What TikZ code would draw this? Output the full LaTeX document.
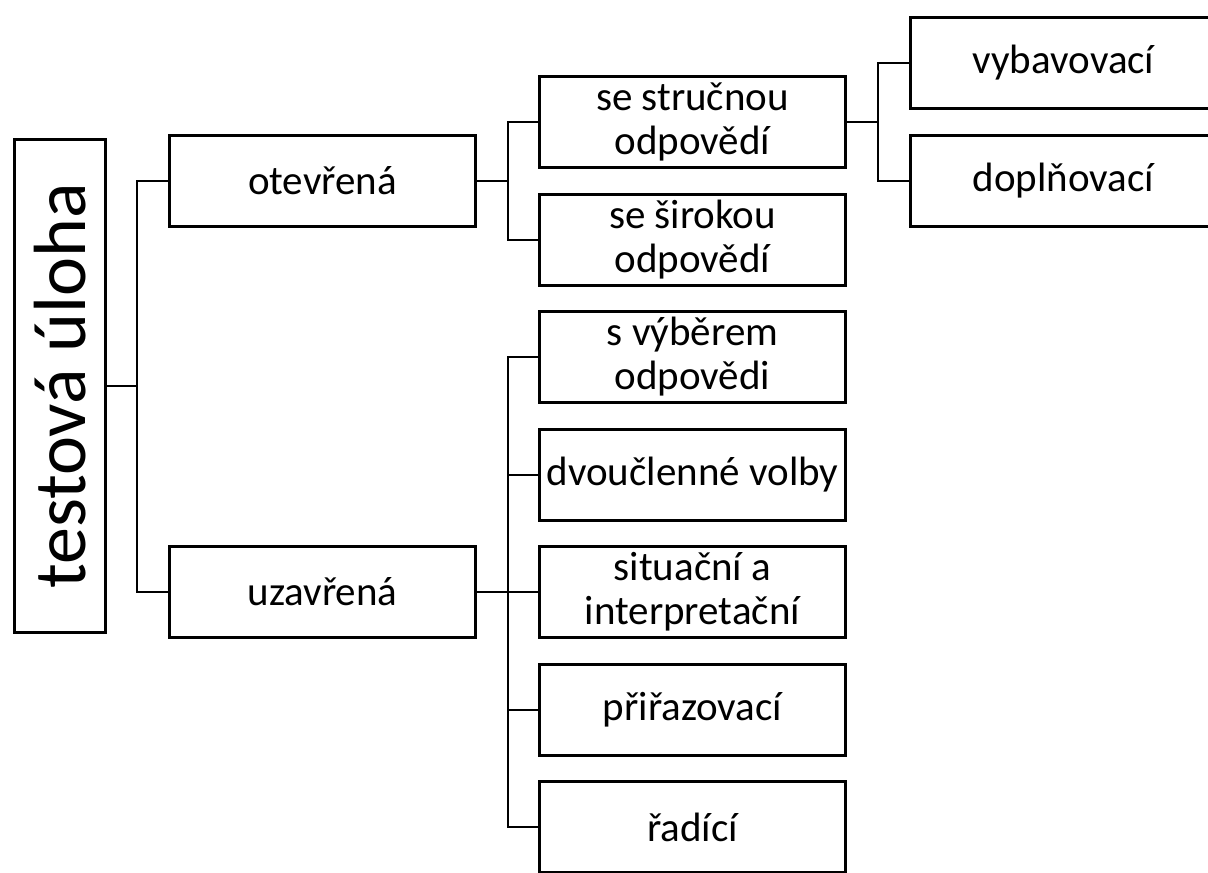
\documentclass[tikz,border=0pt]{standalone}
\usepackage{fontspec}
\setmainfont{Carlito}
\usetikzlibrary{positioning}

\begin{document}
\begin{tikzpicture}[x=1pt, y=-1pt,
        box/.style = {draw, line width=3pt, minimum width=306pt, minimum height=91pt, inner sep=0pt, align=center, font=\fontsize{41}{44}\selectfont},
        link/.style = {draw, line width=2pt}]
            \useasboundingbox (0,0) rectangle (1208,873);

            \node[box, rotate=90, minimum width=493pt, font=\fontsize{74}{80}\selectfont] (root) at (60,386) {testová úloha};

            \node[box] (ote) at (322.5,181) {otevřená};
            \node[box] (uza) at (322.5,592) {uzavřená};

            \node[box] (str) at (692.5,122) {se stručnou\\odpovědí};
            \node[box] (sir) at (692.5,240) {se širokou\\odpovědí};
            \node[box] (vyb) at (1063.5,63) {vybavovací};
            \node[box] (dop) at (1063.5,181) {doplňovací};

            \node[box] (sel) at (692.5,357) {s výběrem\\odpovědi};
            \node[box] (dvo) [below=23.5pt of sel] {dvoučlenné volby};
            \node[box] (sit) [below=23.5pt of dvo] {situační a\\interpretační};
            \node[box] (pri) [below=23.5pt of sit] {přiřazovací};
            \node[box] (rad) [below=23.5pt of pri] {řadící};

            \coordinate (j0) at (137,386);
            \coordinate (j1) at (508,181);
            \coordinate (j2) at (508,592);
            \coordinate (j3) at (878,122);

            \draw[link] (root) -- (j0);
            \draw[link] (ote) -| (j0) |- (uza);
            \draw[link] (ote) -- (j1);
            \draw[link] (str) -| (j1) |- (sir);
            \draw[link] (str) -- (j3);
            \draw[link] (vyb) -| (j3) |- (dop);
            \draw[link] (uza) -- (j2);
            \draw[link] (sel) -| (j2) |- (rad);
            \foreach \n in {dvo, sit, pri}
                \draw[link] (j2 |- \n) -- (\n);
        \end{tikzpicture}
\end{document}
